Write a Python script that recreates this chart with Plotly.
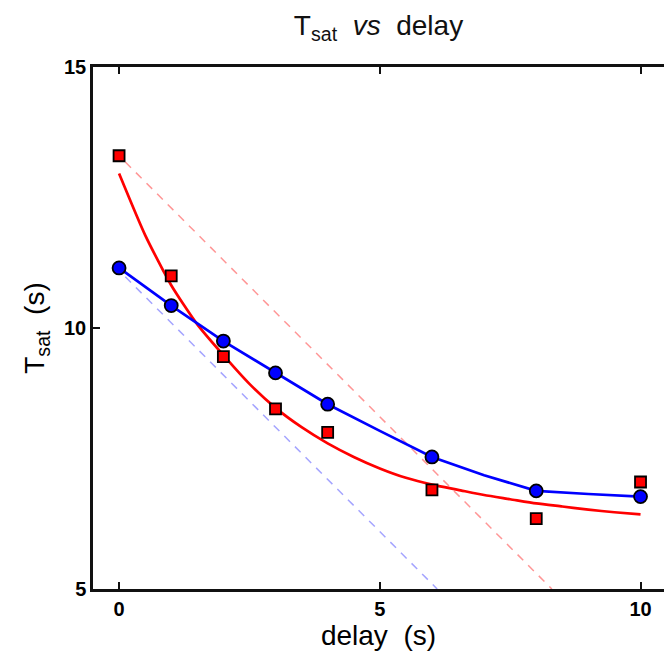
import plotly.graph_objects as go

# ---- data ----
delay = [0, 1, 2, 3, 4, 6, 8, 10]
tsat_red = [13.3, 11.0, 9.45, 8.45, 8.0, 6.9, 6.35, 7.05]
tsat_blue = [11.15, 10.43, 9.75, 9.14, 8.54, 7.53, 6.88, 6.77]

fit_red_x = [0, 0.5, 1, 1.5, 2, 2.5, 3, 3.5, 4, 4.5, 5, 5.5, 6, 6.5, 7, 7.5, 8, 8.5, 9, 9.5, 10]
fit_red_y = [12.96, 11.78, 10.82, 10.07, 9.48, 8.93, 8.47, 8.10, 7.79, 7.53, 7.31, 7.13, 7.00,
             6.90, 6.80, 6.72, 6.64, 6.58, 6.52, 6.47, 6.43]

fit_blue_x = [0, 1, 2, 3, 4, 5, 6, 7, 8, 9, 10]
fit_blue_y = [11.15, 10.43, 9.75, 9.14, 8.54, 8.03, 7.53, 7.18, 6.88, 6.82, 6.77]

dash_red_x = [0.12, 8.3]
dash_red_y = [13.18, 5.0]
dash_blue_x = [0.12, 6.1]
dash_blue_y = [10.98, 5.0]

x_ticks = [0, 5, 10]
y_ticks = [5, 10, 15]

RED = "#ff0000"
BLUE = "#0000ff"

fig = go.Figure()
fig.add_trace(go.Scatter(x=dash_red_x, y=dash_red_y, mode="lines",
                         line=dict(color="rgba(255,80,80,0.6)", width=1.5, dash="8px,7px"),
                         showlegend=False))
fig.add_trace(go.Scatter(x=dash_blue_x, y=dash_blue_y, mode="lines",
                         line=dict(color="rgba(90,90,255,0.55)", width=1.5, dash="8px,7px"),
                         showlegend=False))
fig.add_trace(go.Scatter(x=fit_red_x, y=fit_red_y, mode="lines",
                         line=dict(color=RED, width=2.7, shape="spline", smoothing=0.6),
                         showlegend=False))
fig.add_trace(go.Scatter(x=fit_blue_x, y=fit_blue_y, mode="lines",
                         line=dict(color=BLUE, width=2.7),
                         showlegend=False))
fig.add_trace(go.Scatter(x=delay, y=tsat_red, mode="markers",
                         marker=dict(symbol="square", size=11, color=RED,
                                     line=dict(color="black", width=1.8)),
                         showlegend=False))
fig.add_trace(go.Scatter(x=delay, y=tsat_blue, mode="markers",
                         marker=dict(symbol="circle", size=13, color=BLUE,
                                     line=dict(color="black", width=1.8)),
                         showlegend=False))

tick_style = dict(ticks="inside", ticklen=7, tickwidth=2, tickcolor="#111111",
                  showgrid=False, zeroline=False)
tfont = dict(family="Liberation Sans", size=20, color="black", weight="bold")

fig.update_layout(
    width=664, height=654,
    margin=dict(l=93, r=0, t=67, b=65),
    paper_bgcolor="white", plot_bgcolor="white",
    font=dict(family="Liberation Sans", color="black"),
    title=dict(text="T<sub>sat</sub>&nbsp; <i>vs</i>&nbsp; delay", x=0.5, xref="paper", xanchor="center",
               y=1 - 25 / 654, yref="container", yanchor="middle",
               font=dict(family="Liberation Sans", size=28, color="#111111")),
    xaxis=dict(range=[-0.5, 10.45], tickvals=x_ticks, ticktext=[str(v) for v in x_ticks],
               showline=True, linecolor="#111111", linewidth=2.5, mirror="ticks",
               tickfont=tfont,
               title=dict(text="delay&nbsp; (s)", font=dict(size=28, family="Liberation Sans"), standoff=5),
               **tick_style),
    yaxis=dict(range=[5, 15], tickvals=y_ticks, ticktext=[str(v) for v in y_ticks],
               showline=True, linecolor="#111111", linewidth=2.5, mirror=False,
               tickfont=tfont,
               title=dict(text="T<sub>sat</sub>&nbsp; (s)", font=dict(size=28, family="Liberation Sans"), standoff=12),
               **tick_style),
    yaxis2=dict(range=[5, 15], tickvals=y_ticks, overlaying="y", side="right",
                showline=False, showticklabels=False, **tick_style),
)

fig.write_html(
    "out.html",
    config={"displayModeBar": False, "responsive": False},
    post_script=("document.body.style.margin='0';"
                 "document.body.style.overflow='hidden';"
                 "document.documentElement.style.overflow='hidden';"),
)
